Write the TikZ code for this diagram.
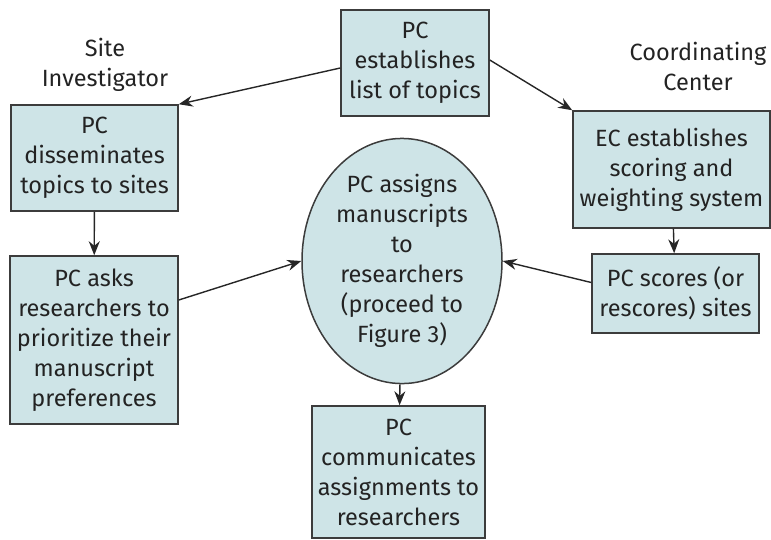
\documentclass[tikz,border=0pt]{standalone}
\usepackage{fontspec}
\setmainfont{Fira Sans}
\usepackage{xcolor}
\usetikzlibrary{arrows.meta,shapes.geometric}

\definecolor{boxfill}{RGB}{206,228,231}
\definecolor{boxline}{RGB}{60,60,60}
\definecolor{boxtext}{RGB}{35,35,35}

\begin{document}
\begin{tikzpicture}[x=1pt,y=-1pt,
  font=\fontsize{23.5}{30}\selectfont,text=boxtext,
  stepbox/.style={rectangle,draw=boxline,fill=boxfill,line width=1.5pt,
    align=center,inner sep=0pt},
  flow/.style={-{Stealth[length=14pt,width=11pt]},line width=1.4pt,draw=black!85}]
\useasboundingbox (0,0) rectangle (771,539);

% the two groups
\node[align=center] (si) at (105,65) {Site\\Investigator};
\node[align=center] (cc) at (698,66) {Coordinating\\Center};

% boxes
\node[stepbox,minimum width=148pt,minimum height=106pt] (list) at (415,63)
  {PC\\establishes\\list of topics};
\node[stepbox,minimum width=167pt,minimum height=106pt] (diss) at (94.5,158)
  {PC\\disseminates\\topics to sites};
\node[stepbox,minimum width=168pt,minimum height=168pt] (asks) at (94,340)
  {PC asks\\researchers to\\prioritize their\\manuscript\\preferences};
\node[stepbox,minimum width=197pt,minimum height=117pt] (ec) at (671.5,169.5)
  {EC establishes\\scoring and\\weighting system};
\node[stepbox,minimum width=167pt,minimum height=79pt] (score) at (675.5,293.5)
  {PC scores (or\\rescores) sites};
\node[stepbox,ellipse,minimum width=200pt,minimum height=215pt] (assign) at (402,261)
  {PC assigns\\manuscripts\\to\\researchers\\(proceed to\\Figure 3)};
\node[stepbox,minimum width=173pt,minimum height=132pt] (comm) at (398.5,472)
  {PC\\communicates\\assignments to\\researchers};

% arrows
\draw[flow] (list.west) ++(0,5) -- (diss.north east);
\draw[flow] (list.east) ++(0,-3) -- (ec.north west);
\draw[flow] (diss) -- (asks);
\draw[flow] (asks.east) ++(0,-40) -- (assign.west);
\draw[flow] (ec) -- (score);
\draw[flow] (score.west) ++(0,-11) -- (assign.east);
\draw[flow] (assign) -- (comm);
\end{tikzpicture}
\end{document}
